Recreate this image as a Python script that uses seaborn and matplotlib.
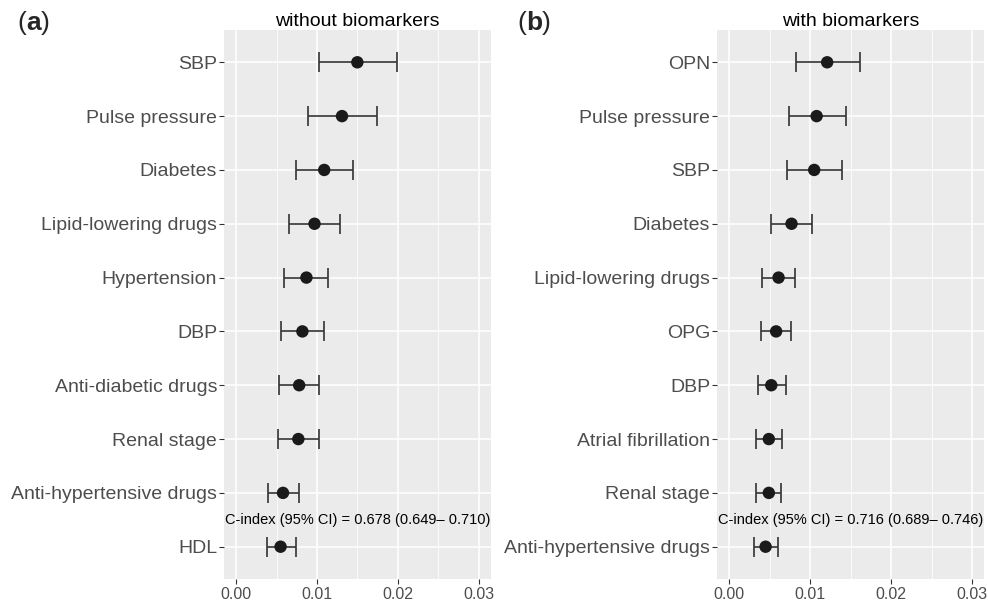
import numpy as np
import pandas as pd
import matplotlib
matplotlib.use("Agg")
import matplotlib.pyplot as plt
import seaborn as sns
from matplotlib.ticker import MultipleLocator

# ---- data ----
vars_a = ["SBP", "Pulse pressure", "Diabetes", "Lipid-lowering drugs", "Hypertension",
          "DBP", "Anti-diabetic drugs", "Renal stage", "Anti-hypertensive drugs", "HDL"]
est_a = [0.0150, 0.0131, 0.0109, 0.0097, 0.0087, 0.0082, 0.0078, 0.0077, 0.0058, 0.0055]
lo_a = [0.0102, 0.0089, 0.0074, 0.0066, 0.0059, 0.0056, 0.0053, 0.0052, 0.0040, 0.0038]
hi_a = [0.0199, 0.0174, 0.0145, 0.0129, 0.0114, 0.0109, 0.0103, 0.0102, 0.0078, 0.0074]

vars_b = ["OPN", "Pulse pressure", "SBP", "Diabetes", "Lipid-lowering drugs",
          "OPG", "DBP", "Atrial fibrillation", "Renal stage", "Anti-hypertensive drugs"]
est_b = [0.0121, 0.0108, 0.0105, 0.0077, 0.0061, 0.0058, 0.0052, 0.0049, 0.0049, 0.0045]
lo_b = [0.0083, 0.0074, 0.0071, 0.0052, 0.0041, 0.0039, 0.0035, 0.0033, 0.0033, 0.0031]
hi_b = [0.0161, 0.0144, 0.0139, 0.0102, 0.0081, 0.0076, 0.0070, 0.0065, 0.0064, 0.0060]

titles = ["without biomarkers", "with biomarkers"]
panel_tags = ["a", "b"]
cindex_text = ["C-index (95% CI) = 0.678 (0.649\u2013 0.710)",
               "C-index (95% CI) = 0.716 (0.689\u2013 0.746)"]
x_ticks = [0.00, 0.01, 0.02, 0.03]
x_ticklabels = ["0.00", "0.01", "0.02", "0.03"]

# ---- style ----
sns.set_theme(style="darkgrid")
plt.rcParams["font.family"] = ["Liberation Sans", "DejaVu Sans"]

fig = plt.figure(figsize=(9.88, 6.02), dpi=100)
axes = [fig.add_axes([224 / 988, 23 / 602, 266.7 / 988, 549 / 602]),
        fig.add_axes([717 / 988, 23 / 602, 267.3 / 988, 549 / 602])]

datasets = [(vars_a, est_a, lo_a, hi_a), (vars_b, est_b, lo_b, hi_b)]

for ax, (vars_, est, lo, hi), title, ctext in zip(axes, datasets, titles, cindex_text):
    df = pd.DataFrame({"var": vars_, "est": est, "lo": lo, "hi": hi})
    n = len(df)
    ax.set_facecolor("#EBEBEB")
    ypos = np.arange(n)
    ax.errorbar(df["est"], ypos,
                xerr=[df["est"] - df["lo"], df["hi"] - df["est"]],
                fmt="none", ecolor="#333333", elinewidth=1.2, capsize=7.5,
                capthick=1.2, zorder=3)
    sns.scatterplot(data=df, x="est", y=ypos, ax=ax, color="#1a1a1a", s=80,
                    edgecolor="none", zorder=4, legend=False)
    ax.set_yticks(ypos)
    ax.set_yticklabels(df["var"])
    ax.set_ylim(n - 1 + 0.6, -0.6)
    ax.set_xlim(-0.0015, 0.0315)
    ax.set_xticks(x_ticks)
    ax.set_xticklabels(x_ticklabels)
    ax.xaxis.set_minor_locator(MultipleLocator(0.005))
    ax.grid(which="major", color="white", linewidth=1.1)
    ax.grid(which="minor", axis="x", color="white", linewidth=0.55)
    ax.grid(which="minor", axis="y", visible=False)
    ax.set_axisbelow(True)
    for s in ax.spines.values():
        s.set_visible(False)
    ax.tick_params(axis="y", which="major", left=True, length=3.5, width=0.8,
                   color="#333333", labelsize=14, labelcolor="#4D4D4D", pad=1.5)
    ax.tick_params(axis="x", which="major", bottom=True, length=3.5, width=0.8,
                   color="#333333", labelsize=11.5, labelcolor="#4D4D4D", pad=2)
    ax.tick_params(axis="x", which="minor", bottom=False)
    ax.set_xlabel("")
    ax.set_ylabel("")
    ax.set_title(title, fontsize=14, color="black", pad=3)
    ax.text(0.015, n - 1.5, ctext, ha="center", va="center", fontsize=10.5,
            color="black", zorder=5)

r = fig.canvas.get_renderer()
for tag, xl in zip(panel_tags, [17, 517]):
    t1 = fig.text(xl / 988, 1 - 23 / 602, "(", fontsize=19, ha="left", va="center")
    bb = t1.get_window_extent(renderer=r)
    t2 = fig.text(bb.x1 / 988, 1 - 23 / 602, tag, fontsize=19, fontweight="bold",
                  ha="left", va="center")
    bb2 = t2.get_window_extent(renderer=r)
    fig.text(bb2.x1 / 988, 1 - 23 / 602, ")", fontsize=19, ha="left", va="center")

fig.savefig("out.png", dpi=100)
